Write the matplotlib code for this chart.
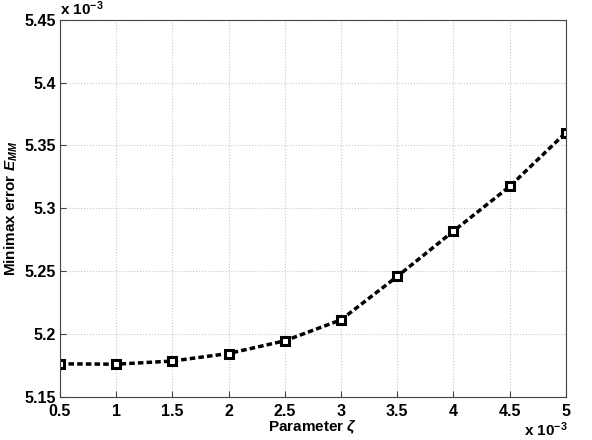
import numpy as np
import matplotlib.pyplot as plt

plt.rcParams['font.family'] = ['Liberation Sans', 'DejaVu Sans']
plt.rcParams['font.weight'] = 'bold'
plt.rcParams['axes.labelweight'] = 'bold'
plt.rcParams['mathtext.fontset'] = 'custom'
plt.rcParams['mathtext.it'] = 'Liberation Sans:italic:bold'
plt.rcParams['mathtext.rm'] = 'Liberation Sans:bold'

# data (both axes scaled by 1e-3)
zeta = [0.5, 1.0, 1.5, 2.0, 2.5, 3.0, 3.5, 4.0, 4.5, 5.0]
err = [5.1763, 5.1760, 5.1785, 5.1845, 5.1946, 5.2113, 5.2458, 5.2819, 5.3174, 5.3603]

xticks = [0.5, 1, 1.5, 2, 2.5, 3, 3.5, 4, 4.5, 5]
xticklabels = ['0.5', '1', '1.5', '2', '2.5', '3', '3.5', '4', '4.5', '5']
yticks = [5.15, 5.2, 5.25, 5.3, 5.35, 5.4, 5.45]
yticklabels = ['5.15', '5.2', '5.25', '5.3', '5.35', '5.4', '5.45']

fig = plt.figure(figsize=(5.92, 4.4), dpi=100)
ax = fig.add_axes([0.101, 0.098, 0.855, 0.857])

ax.plot(zeta, err, color='black', linestyle=(0, (1.6, 0.9)), linewidth=2.5,
        marker='s', markersize=6, markerfacecolor='white',
        markeredgecolor='black', markeredgewidth=2.2)

ax.set_xlim(0.5, 5)
ax.set_ylim(5.15, 5.45)
ax.set_xticks(xticks)
ax.set_xticklabels(xticklabels)
ax.set_yticks(yticks)
ax.set_yticklabels(yticklabels)
ax.tick_params(direction='in', labelsize=11.5, length=4, color='#444444', pad=3)
ax.tick_params(axis='x', pad=5)
ax.grid(True, linestyle=':', color='#c8c8c8', linewidth=0.8)
for s in ax.spines.values():
    s.set_color('#444444')

ax.set_xlabel(r'Parameter $\zeta$', fontsize=11, labelpad=0)
ax.set_ylabel(r'Minimax error $E_{MM}$', fontsize=11, labelpad=3)

ax.text(0.0, 1.006, r'x 10$^{\mathregular{-3}}$', transform=ax.transAxes,
        fontsize=11, fontweight='bold', ha='left', va='bottom')
ax.text(0.918, -0.062, r'x 10$^{\mathregular{-3}}$', transform=ax.transAxes,
        fontsize=11, fontweight='bold', ha='left', va='top')

fig.savefig('out.png', dpi=100)
